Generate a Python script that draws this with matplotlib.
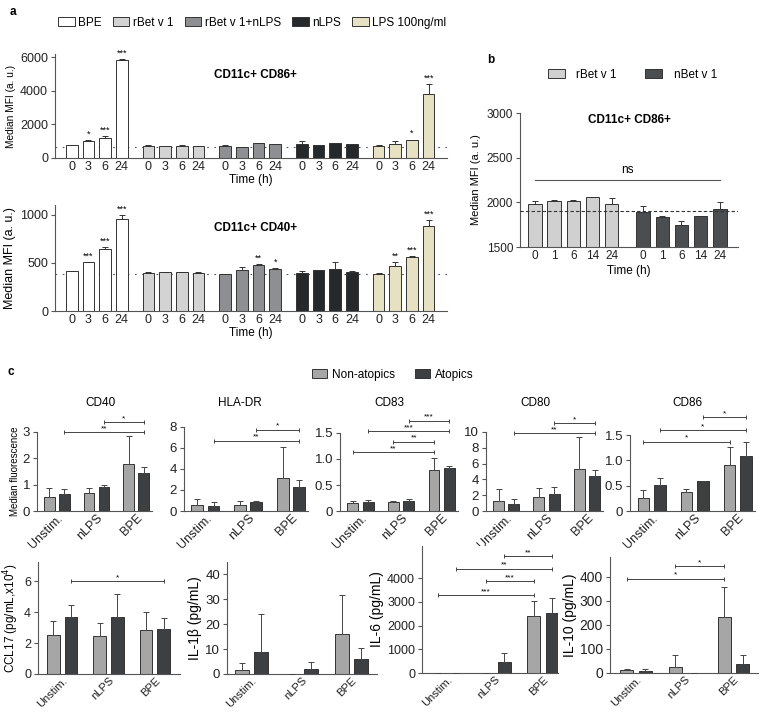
import matplotlib
matplotlib.use('Agg')
import matplotlib.pyplot as plt
import numpy as np
from matplotlib.patches import Patch

plt.rcParams['font.family'] = ['Liberation Sans', 'DejaVu Sans']

# ---------------- data ----------------
# panel a: 5 stimulations x 4 time points
time_a = ['0', '3', '6', '24']
groups_a = ['BPE', 'rBet v 1', 'rBet v 1+nLPS', 'nLPS', 'LPS 100ng/ml']
colors_a = ['#ffffff', '#d3d3d3', '#8e8f93', '#26292b', '#e7e1c4']

cd86_a = [[752, 990, 1208, 5850], [733, 693, 733, 693], [733, 653, 891, 851],
          [832, 752, 891, 812], [733, 851, 1069, 3802]]
cd86_a_err = [[15, 100, 120, 25], [20, 10, 50, 0], [30, 20, 10, 10],
              [170, 30, 10, 20], [40, 130, 30, 600]]
cd86_a_stars = [['', '*', '***', '***'], ['', '', '', ''], ['', '', '', ''],
                ['', '', '', ''], ['', '', '*', '***']]
cd86_a_ref = 640

cd40_a = [[415, 505, 645, 955], [394, 401, 401, 397], [380, 422, 474, 439],
          [397, 422, 436, 408], [387, 470, 564, 885]]
cd40_a_err = [[5, 5, 17, 45], [14, 8, 6, 4], [3, 38, 17, 6],
              [21, 8, 76, 5], [10, 39, 6, 59]]
cd40_a_stars = [['', '***', '***', '***'], ['', '', '', ''], ['', '', '**', '*'],
                ['', '', '', ''], ['', '**', '***', '***']]
cd40_a_ref = 383

# panel b
time_b = ['0', '1', '6', '14', '24']
groups_b = ['rBet v 1', 'nBet v 1']
colors_b = ['#d0d0d0', '#4b4e51']
cd86_b = [[1985, 2019, 2019, 2056, 1978], [1896, 1840, 1750, 1843, 1922]]
cd86_b_err = [[34, 12, 12, 0, 71], [59, 4, 45, 0, 78]]
cd86_b_ref = 1900
ns_level = 2250

# panel c
stims = ['Unstim.', 'nLPS', 'BPE']
donors = ['Non-atopics', 'Atopics']
colors_c = ['#a6a6a6', '#3d4042']

cd40_non = [0.52, 0.68, 1.78]
cd40_non_err = [0.34, 0.19, 1.08]
cd40_ato = [0.65, 0.90, 1.46]
cd40_ato_err = [0.20, 0.07, 0.21]
cd40_sig = [((0, 1), (2, 1), 2.99, '**'), ((1, 1), (2, 1), 3.38, '*')]

hla_non = [0.60, 0.57, 3.14]
hla_non_err = [0.54, 0.38, 2.96]
hla_ato = [0.50, 0.86, 2.32]
hla_ato_err = [0.36, 0.12, 0.66]
hla_sig = [((0, 1), (2, 1), 6.7, '**'), ((1, 1), (2, 1), 7.75, '*')]

cd83_non = [0.154, 0.167, 0.78]
cd83_non_err = [0.046, 0.023, 0.24]
cd83_ato = [0.17, 0.20, 0.83]
cd83_ato_err = [0.04, 0.03, 0.035]
cd83_sig = [((0, 0), (2, 0), 1.13, '**'), ((1, 0), (2, 0), 1.33, '**'),
            ((0, 1), (2, 1), 1.54, '***'), ((1, 1), (2, 1), 1.74, '***')]

cd80_non = [1.3, 1.75, 5.37]
cd80_non_err = [1.5, 1.12, 3.96]
cd80_ato = [0.87, 2.12, 4.37]
cd80_ato_err = [0.63, 0.98, 0.88]
cd80_sig = [((0, 1), (2, 1), 9.83, '**'), ((1, 1), (2, 1), 11.1, '*')]

cd86_non = [0.26, 0.37, 0.90]
cd86_non_err = [0.15, 0.07, 0.36]
cd86_ato = [0.51, 0.595, 1.09]
cd86_ato_err = [0.15, 0.005, 0.27]
cd86_sig = [((0, 0), (2, 0), 1.37, '*'), ((0, 1), (2, 1), 1.60, '*'),
            ((1, 1), (2, 1), 1.85, '*')]

ccl17_non = [2.5, 2.45, 2.85]
ccl17_non_err = [0.9, 0.82, 1.15]
ccl17_ato = [3.7, 3.7, 2.93]
ccl17_ato_err = [0.75, 1.45, 0.69]
ccl17_sig = [((0, 1), (2, 1), 6.0, '*')]

il1b_non = [1.7, 0, 16.0]
il1b_non_err = [2.6, np.nan, 15.8]
il1b_ato = [9.0, 1.9, 6.2]
il1b_ato_err = [15.2, 3.1, 4.4]
il1b_sig = []

il6_non = [0, 0, 2420]
il6_non_err = [np.nan, np.nan, 610]
il6_ato = [15, 450, 2520]
il6_ato_err = [np.nan, 400, 660]
il6_sig = [((0, 0), (2, 0), 3290, '***'), ((1, 0), (2, 0), 3860, '***'),
           ((0, 1), (2, 1), 4390, '**'), ((1, 1), (2, 1), 4930, '**')]

il10_non = [12, 27, 235]
il10_non_err = [4, 46, 123]
il10_ato = [10, 0, 39]
il10_ato_err = [5, np.nan, 36]
il10_sig = [((0, 0), (2, 0), 392, '*'), ((1, 0), (2, 0), 445, '*')]

# ---------------- layout helpers ----------------
W, H = 763, 712
fig = plt.figure(figsize=(W / 100, H / 100), dpi=100)
EDGE = '#333333'


def rect(x0, x1, ytop, ybot):
    return [x0 / W, 1 - ybot / H, (x1 - x0) / W, (ybot - ytop) / H]


def style(ax, fs=8):
    for s in ['top', 'right']:
        ax.spines[s].set_visible(False)
    for s in ['left', 'bottom']:
        ax.spines[s].set_color('#555555')
        ax.spines[s].set_linewidth(0.8)
    ax.tick_params(axis='both', colors='#555555', labelcolor='#222222',
                   labelsize=fs, width=0.8, length=3, pad=2)
    ax.tick_params(axis='x', length=0)


def panel_a(ax, vals, errs, stars, ref, ylim, yticks, title, ty, ylab_fs):
    xs = []
    for g in range(5):
        x = g * 4.6 + np.arange(4)
        xs.extend(x)
        ax.bar(x, vals[g], width=0.7, color=colors_a[g], edgecolor=EDGE,
               linewidth=0.7, zorder=2)
        ax.errorbar(x, vals[g], yerr=[np.zeros(4), errs[g]], fmt='none',
                    ecolor=EDGE, elinewidth=0.7, capsize=2, capthick=0.7, zorder=3)
        for xi, v, e, s in zip(x, vals[g], errs[g], stars[g]):
            if s:
                ax.annotate(s, (xi, v + e), xytext=(0, 1), textcoords='offset points',
                            ha='center', va='bottom', fontsize=6.5,
                            annotation_clip=False)
    ax.axhline(ref, ls=(0, (1.5, 5)), color='#555555', lw=0.8, zorder=1)
    ax.set_xlim(-1.0, 22.5)
    ax.set_ylim(*ylim)
    ax.set_yticks(yticks)
    ax.set_xticks(xs)
    ax.set_xticklabels(time_a * 5)
    style(ax, 9)
    ax.set_xlabel('Time (h)', fontsize=8.5, labelpad=1)
    ax.set_ylabel('Median MFI (a. u.)', fontsize=ylab_fs, labelpad=3)
    ax.text(0.512, ty, title, transform=ax.transAxes, ha='center', va='center',
            fontsize=8.5, fontweight='bold')


def bracket(ax, x1, x2, y, s):
    ax.plot([x1, x2], [y, y], color='#444444', lw=0.7, marker='|', ms=3.5,
            mew=0.7, clip_on=False, zorder=4)
    ax.text((x1 + x2) / 2, y, s, ha='center', va='bottom', fontsize=6,
            clip_on=False)


def panel_c(ax, non, non_err, ato, ato_err, sig, ylim, yticks, ytl, xlim,
            ylabel=None, tick_fs=9, ylab_fs=8.5, xtick_fs=9):
    g = np.arange(3)
    off = 0.19
    for k, (v, e) in enumerate([(non, non_err), (ato, ato_err)]):
        x = g + (off if k else -off)
        ax.bar(x, v, width=0.27, color=colors_c[k], edgecolor=EDGE,
               linewidth=0.7, zorder=2)
        ax.errorbar(x, v, yerr=[np.zeros(3), e], fmt='none', ecolor='#444444',
                    elinewidth=0.7, capsize=2, capthick=0.7, zorder=3)
    for (g1, k1), (g2, k2), y, s in sig:
        bracket(ax, g1 + (off if k1 else -off), g2 + (off if k2 else -off), y, s)
    ax.set_xlim(*xlim)
    ax.set_ylim(*ylim)
    ax.set_yticks(yticks)
    ax.set_yticklabels(ytl)
    ax.set_xticks(g)
    ax.set_xticklabels(stims, rotation=45, ha='right', rotation_mode='anchor')
    style(ax, tick_fs)
    ax.tick_params(axis='x', labelsize=xtick_fs, pad=1)
    if ylabel:
        ax.set_ylabel(ylabel, fontsize=ylab_fs, labelpad=2)


# ---------------- panel a ----------------
ax1 = fig.add_axes(rect(55, 447, 54, 158))
panel_a(ax1, cd86_a, cd86_a_err, cd86_a_stars, cd86_a_ref, (0, 6180),
        [0, 2000, 4000, 6000], 'CD11c+ CD86+', 0.8, 7.3)
ax2 = fig.add_axes(rect(55, 447, 205, 311))
panel_a(ax2, cd40_a, cd40_a_err, cd40_a_stars, cd40_a_ref, (0, 1100),
        [0, 500, 1000], 'CD11c+ CD40+', 0.78, 9)

fig.legend(handles=[Patch(facecolor=c, edgecolor=EDGE, linewidth=0.7, label=l)
                    for c, l in zip(colors_a, groups_a)],
           loc='center left', bbox_to_anchor=(58 / W, 1 - 23 / H), ncol=5,
           frameon=False, fontsize=8.5, handlelength=1.4, handleheight=0.8,
           handletextpad=0.3, columnspacing=0.95, borderaxespad=0, borderpad=0)

# ---------------- panel b ----------------
axb = fig.add_axes(rect(520, 738, 113, 247))
xs_b = []
for k in range(2):
    x = k * 5.65 + np.arange(5)
    xs_b.extend(x)
    axb.bar(x, cd86_b[k], width=0.7, color=colors_b[k], edgecolor=EDGE,
            linewidth=0.7, zorder=2)
    axb.errorbar(x, cd86_b[k], yerr=[np.zeros(5), cd86_b_err[k]], fmt='none',
                 ecolor=EDGE, elinewidth=0.7, capsize=2, capthick=0.7, zorder=3)
axb.axhline(cd86_b_ref, ls=(0, (3, 2)), color='#333333', lw=0.8, zorder=4)
axb.plot([xs_b[0], xs_b[-1]], [ns_level, ns_level], color='#555555', lw=0.8)
axb.text((xs_b[0] + xs_b[-1]) / 2, ns_level + 40, 'ns', ha='center', va='bottom',
         fontsize=8.5)
axb.set_xlim(-0.78, 10.6)
axb.set_ylim(1500, 3000)
axb.set_yticks([1500, 2000, 2500, 3000])
axb.set_xticks(xs_b)
axb.set_xticklabels(time_b * 2)
style(axb, 8.5)
axb.set_xlabel('Time (h)', fontsize=8.5, labelpad=2)
axb.set_ylabel('Median MFI (a. u.)', fontsize=8, labelpad=4)
axb.text(0.5, 0.95, 'CD11c+ CD86+', transform=axb.transAxes, ha='center',
         va='center', fontsize=8.5, fontweight='bold')
fig.legend(handles=[Patch(facecolor=c, edgecolor=EDGE, linewidth=0.7, label=l)
                    for c, l in zip(colors_b, groups_b)],
           loc='center left', bbox_to_anchor=(548 / W, 1 - 75 / H), ncol=2,
           frameon=False, fontsize=8.5, handlelength=1.4, handleheight=0.8,
           handletextpad=1.0, columnspacing=2.4, borderaxespad=0, borderpad=0)

# ---------------- panel c ----------------
row1 = [
    (rect(37, 152, 432, 511), cd40_non, cd40_non_err, cd40_ato, cd40_ato_err, cd40_sig,
     (0, 3), [0, 1, 2, 3], ['0', '1', '2', '3'], 'CD40', 100, 'Median fluorescence'),
    (rect(184, 308, 427, 511), hla_non, hla_non_err, hla_ato, hla_ato_err, hla_sig,
     (0, 8), [0, 2, 4, 6, 8], ['0', '2', '4', '6', '8'], 'HLA-DR', 240, None),
    (rect(340, 458, 433, 511), cd83_non, cd83_non_err, cd83_ato, cd83_ato_err, cd83_sig,
     (0, 1.5), [0, 0.5, 1.0, 1.5], ['0', '0.5', '1.0', '1.5'], 'CD83', 389, None),
    (rect(486, 603, 432, 511), cd80_non, cd80_non_err, cd80_ato, cd80_ato_err, cd80_sig,
     (0, 10), [0, 2, 4, 6, 8, 10], ['0', '2', '4', '6', '8', '10'], 'CD80', 535, None),
    (rect(630, 755, 435, 511), cd86_non, cd86_non_err, cd86_ato, cd86_ato_err, cd86_sig,
     (0, 1.5), [0, 0.5, 1.0, 1.5], ['0', '0.5', '1.0', '1.5'], 'CD86', 687, None),
]
for r, n, ne, a, ae, sg, yl, yt, ytl, title, tx, ylab in row1:
    ax = fig.add_axes(r)
    panel_c(ax, n, ne, a, ae, sg, yl, yt, ytl, (-0.5, 2.4), ylab,
            tick_fs=9.5, ylab_fs=7, xtick_fs=9)
    fig.text(tx / W, 1 - 403 / H, title, ha='center', va='center', fontsize=8.5)

row2 = [
    (rect(38, 180, 562, 674), ccl17_non, ccl17_non_err, ccl17_ato, ccl17_ato_err,
     ccl17_sig, (0, 7.25), [0, 2, 4, 6], ['0', '2', '4', '6'], (-0.52, 2.54),
     'CCL17 (pg/mL,x10$^{4}$)', 9, 8.5),
    (rect(227, 377, 562, 674), il1b_non, il1b_non_err, il1b_ato, il1b_ato_err,
     il1b_sig, (0, 45), [0, 10, 20, 30, 40], ['0', '10', '20', '30', '40'],
     (-0.49, 2.51), 'IL-1β (pg/mL)', 9.5, 10),
    (rect(422, 558, 546, 673), il6_non, il6_non_err, il6_ato, il6_ato_err,
     il6_sig, (0, 5350), [0, 1000, 2000, 3000, 4000],
     ['0', '1000', '2000', '3000', '4000'], (-0.52, 2.31), 'IL-6 (pg/mL)', 9, 10),
    (rect(610, 758, 557, 673), il10_non, il10_non_err, il10_ato, il10_ato_err,
     il10_sig, (0, 483), [0, 100, 200, 300, 400], ['0', '100', '200', '300', '400'],
     (-0.53, 2.5), 'IL-10 (pg/mL)', 10, 10),
]
for r, n, ne, a, ae, sg, yl, yt, ytl, xl, ylab, tfs, lfs in row2:
    ax = fig.add_axes(r)
    panel_c(ax, n, ne, a, ae, sg, yl, yt, ytl, xl, ylab, tick_fs=tfs, ylab_fs=lfs,
            xtick_fs=8)

fig.legend(handles=[Patch(facecolor=c, edgecolor=EDGE, linewidth=0.7, label=l)
                    for c, l in zip(colors_c, donors)],
           loc='center left', bbox_to_anchor=(312 / W, 1 - 375 / H), ncol=2,
           frameon=False, fontsize=8.5, handlelength=1.3, handleheight=0.8,
           handletextpad=0.4, columnspacing=1.7, borderaxespad=0, borderpad=0)

# panel letters
fig.text(10 / W, 1 - 12 / H, 'a', fontsize=8.5, fontweight='bold', va='center')
fig.text(487 / W, 1 - 60 / H, 'b', fontsize=8.5, fontweight='bold', va='center')
fig.text(8 / W, 1 - 372 / H, 'c', fontsize=8.5, fontweight='bold', va='center')

fig.savefig('out.png', dpi=100)
